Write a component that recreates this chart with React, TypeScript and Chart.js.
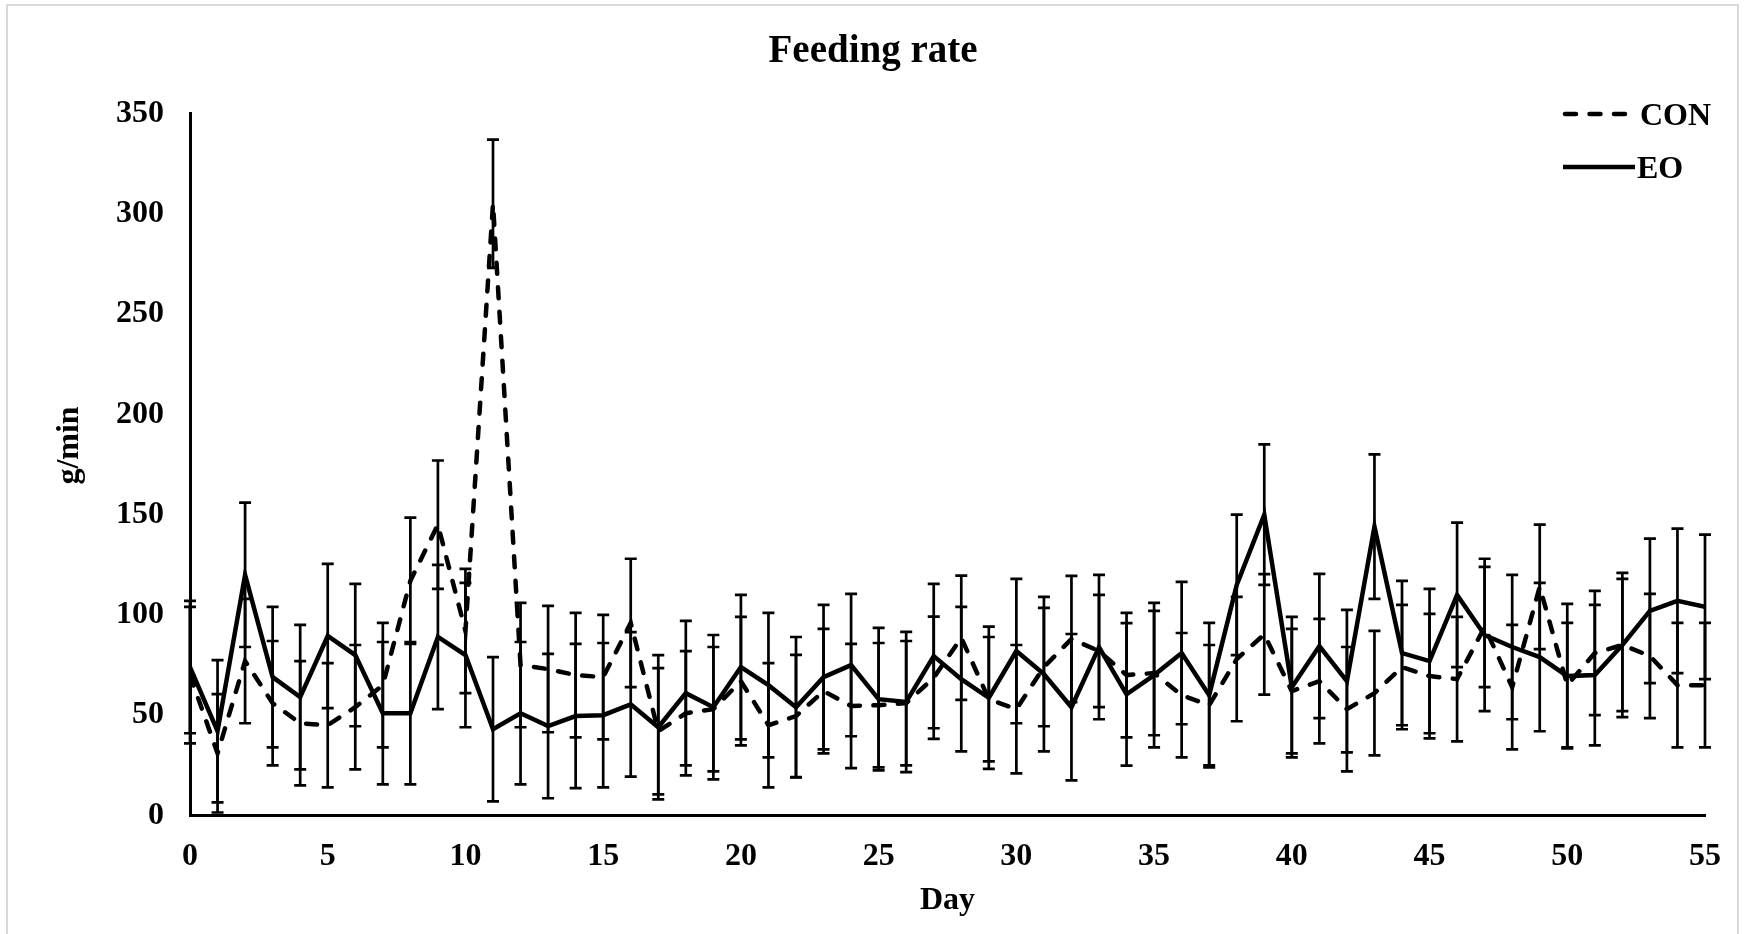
import React, { useEffect, useRef } from "react";
import { Chart, registerables } from "chart.js";

Chart.register(...registerables);

// ---------------- data ----------------
const days = [
  0, 1, 2, 3, 4, 5, 6, 7, 8, 9, 10, 11, 12, 13, 14, 15, 16, 17, 18, 19,
  20, 21, 22, 23, 24, 25, 26, 27, 28, 29, 30, 31, 32, 33, 34, 35, 36, 37, 38, 39,
  40, 41, 42, 43, 44, 45, 46, 47, 48, 49, 50, 51, 52, 53, 54, 55,
];

const conMean = [
  70, 31, 77, 56, 46, 45, 54, 65, 117, 145, 92, 305, 75, 73, 70, 69, 96, 42, 51, 53,
  67, 45, 49.6, 62, 54.6, 55, 56, 68.7, 88.6, 58, 53, 74, 88, 82, 70, 71, 60, 55, 78, 90.3,
  62, 67, 53, 61, 74, 69.5, 68, 94, 64, 114, 65, 81, 85, 79.5, 65, 65,
];
const conSd = [
  34, 29.5, 31, 31, 31, 31, 31, 31, 31.5, 32, 31, 32, 31, 31.5, 31, 31, 32, 31.5, 31, 31,
  32, 31, 30.5, 31, 31, 31, 31, 30.5, 31, 31, 32, 29.5, 31.5, 28, 31, 31, 31, 30, 31, 30,
  31, 31, 31, 31, 31, 31, 31, 30, 31, 31, 31, 31, 33, 31, 31, 31,
];

const eoMean = [
  74, 42, 120, 69, 59, 89.5, 80, 51, 51, 89, 80, 43, 51, 44.6, 49.6, 50, 55.4, 44, 61, 54,
  74, 65, 54, 69, 75, 58, 56.6, 79.5, 68, 58.7, 82, 70.5, 54, 84, 60.4, 70, 81, 60, 115, 150,
  64, 84.5, 67, 144, 81, 77, 110, 90, 84, 79, 69.5, 70, 85, 102, 107, 104,
];
const eoSd = [
  33, 35.5, 36, 35, 36, 36, 35.5, 35.5, 35.5, 36, 36, 36, 35.5, 36, 36, 36, 36, 36, 36, 36,
  36, 36, 35, 36, 35.5, 35.5, 35, 36, 36, 35.5, 36, 38.5, 36.5, 36, 35.5, 36, 35.5, 36, 35, 35,
  35, 36, 35.5, 36, 36, 36, 36, 38, 36, 37, 36, 35, 36, 36, 36, 36,
];

const seriesNames = ["CON", "EO"];
const titleText = "Feeding rate";
const xTitleText = "Day";
const yTitleText = "g/min";
const xTickStep = 5;
const yTickStep = 50;
const xMax = 55;
const yMax = 350;

const FONT = "'Liberation Serif', 'Times New Roman', Times, serif";

// ---------------- plugins ----------------
const backgroundPlugin = {
  id: "bgBorder",
  beforeDraw(chart: any) {
    const { ctx, width, height } = chart;
    ctx.save();
    ctx.fillStyle = "#ffffff";
    ctx.fillRect(0, 0, width, height);
    ctx.strokeStyle = "#d9d9d9";
    ctx.lineWidth = 2;
    ctx.strokeRect(7, 5, width - 14, height + 20);
    ctx.restore();
  },
};

const errorBarPlugin = {
  id: "errorBars",
  afterDatasetsDraw(chart: any) {
    const { ctx } = chart;
    const xs = chart.scales.x;
    const ys = chart.scales.y;
    ctx.save();
    ctx.strokeStyle = "#000";
    ctx.lineWidth = 2.7;
    ctx.lineCap = "butt";
    chart.data.datasets.forEach((ds: any) => {
      const errs: number[] = ds.errors || [];
      ds.data.forEach((pt: any, j: number) => {
        const e = errs[j];
        if (e == null) return;
        const x = xs.getPixelForValue(pt.x);
        const yHi = ys.getPixelForValue(pt.y + e);
        const yLo = ys.getPixelForValue(pt.y - e);
        ctx.beginPath();
        ctx.moveTo(x, yHi);
        ctx.lineTo(x, yLo);
        ctx.moveTo(x - 6, yHi);
        ctx.lineTo(x + 6, yHi);
        ctx.moveTo(x - 6, yLo);
        ctx.lineTo(x + 6, yLo);
        ctx.stroke();
      });
    });
    ctx.restore();
  },
};

const customTextPlugin = {
  id: "customText",
  afterDraw(chart: any) {
    const { ctx, chartArea } = chart;
    ctx.save();
    ctx.fillStyle = "#000";
    ctx.font = `bold 32px ${FONT}`;
    // y-axis title
    ctx.save();
    ctx.translate(70, chartArea.top + (chartArea.bottom - chartArea.top) / 2 - 19);
    ctx.rotate(-Math.PI / 2);
    ctx.textAlign = "center";
    ctx.textBaseline = "middle";
    ctx.fillText(yTitleText, 0, 0);
    ctx.restore();

    // legend
    const right = chartArea.right;
    chart.data.datasets.forEach((ds: any, i: number) => {
      const y = chartArea.top + 0.5 + i * 53;
      ctx.save();
      ctx.strokeStyle = ds.borderColor;
      ctx.lineWidth = ds.borderWidth;
      ctx.lineCap = ds.borderDash && ds.borderDash.length ? "round" : "butt";
      ctx.setLineDash(ds.borderDash || []);
      ctx.beginPath();
      if (ds.borderDash && ds.borderDash.length) {
        ctx.moveTo(right - 140, y);
        ctx.lineTo(right - 76, y);
      } else {
        ctx.moveTo(right - 142, y);
        ctx.lineTo(right - 70, y);
      }
      ctx.stroke();
      ctx.restore();
      ctx.textAlign = "left";
      ctx.textBaseline = "middle";
      ctx.fillText(ds.label, i === 0 ? right - 65 : right - 68, y + 3);
    });
    ctx.restore();
  },
};

// ---------------- component ----------------
export default function App() {
  const canvasRef = useRef<HTMLCanvasElement | null>(null);

  useEffect(() => {
    document.body.style.margin = "0";
    const canvas = canvasRef.current;
    if (!canvas) return;

    const conData = days.map((d, i) => ({ x: d, y: conMean[i] }));
    const eoData = days.map((d, i) => ({ x: d, y: eoMean[i] }));

    const chart = new Chart(canvas, {
      type: "line",
      data: {
        datasets: [
          {
            label: seriesNames[0],
            data: conData,
            errors: conSd,
            borderColor: "#000",
            borderWidth: 4.5,
            borderDash: [11, 13.5],
            borderCapStyle: "round",
            pointRadius: 0,
            tension: 0,
            fill: false,
          } as any,
          {
            label: seriesNames[1],
            data: eoData,
            errors: eoSd,
            borderColor: "#000",
            borderWidth: 4.5,
            pointRadius: 0,
            tension: 0,
            fill: false,
          } as any,
        ],
      },
      options: {
        animation: false,
        responsive: false,
        maintainAspectRatio: false,
        devicePixelRatio: 1,
        layout: { padding: { left: 41, right: 40, top: 0, bottom: 0 } },
        plugins: {
          legend: { display: false },
          tooltip: { enabled: false },
          title: {
            display: true,
            text: titleText,
            color: "#000",
            font: { family: FONT, size: 39, weight: "bold", lineHeight: 1.2 },
            padding: { top: 28.5, bottom: 38.2 },
          },
        },
        scales: {
          x: {
            type: "linear",
            min: 0,
            max: xMax,
            grid: { display: false, drawTicks: false },
            border: { display: true, color: "#000", width: 3 },
            ticks: {
              stepSize: xTickStep,
              color: "#000",
              padding: 22,
              maxRotation: 0,
              font: { family: FONT, size: 32, weight: "bold", lineHeight: 1.2 },
            },
            title: {
              display: true,
              text: xTitleText,
              color: "#000",
              font: { family: FONT, size: 32, weight: "bold", lineHeight: 1.2 },
              padding: { top: 0, bottom: 14.5 },
            },
            afterFit: (s: any) => {
              s.height = 118.5;
            },
          },
          y: {
            min: 0,
            max: yMax,
            grid: { display: false, drawTicks: false },
            border: { display: true, color: "#000", width: 3 },
            ticks: {
              stepSize: yTickStep,
              color: "#000",
              padding: 26,
              font: { family: FONT, size: 32, weight: "bold", lineHeight: 1.2 },
            },
            afterFit: (s: any) => {
              s.width = 149;
            },
          },
        },
      } as any,
      plugins: [backgroundPlugin, errorBarPlugin, customTextPlugin],
    });

    return () => chart.destroy();
  }, []);

  return (
    <div style={{ width: 1745, height: 934, position: "relative" }}>
      <canvas ref={canvasRef} width={1745} height={934} style={{ display: "block" }} />
    </div>
  );
}
